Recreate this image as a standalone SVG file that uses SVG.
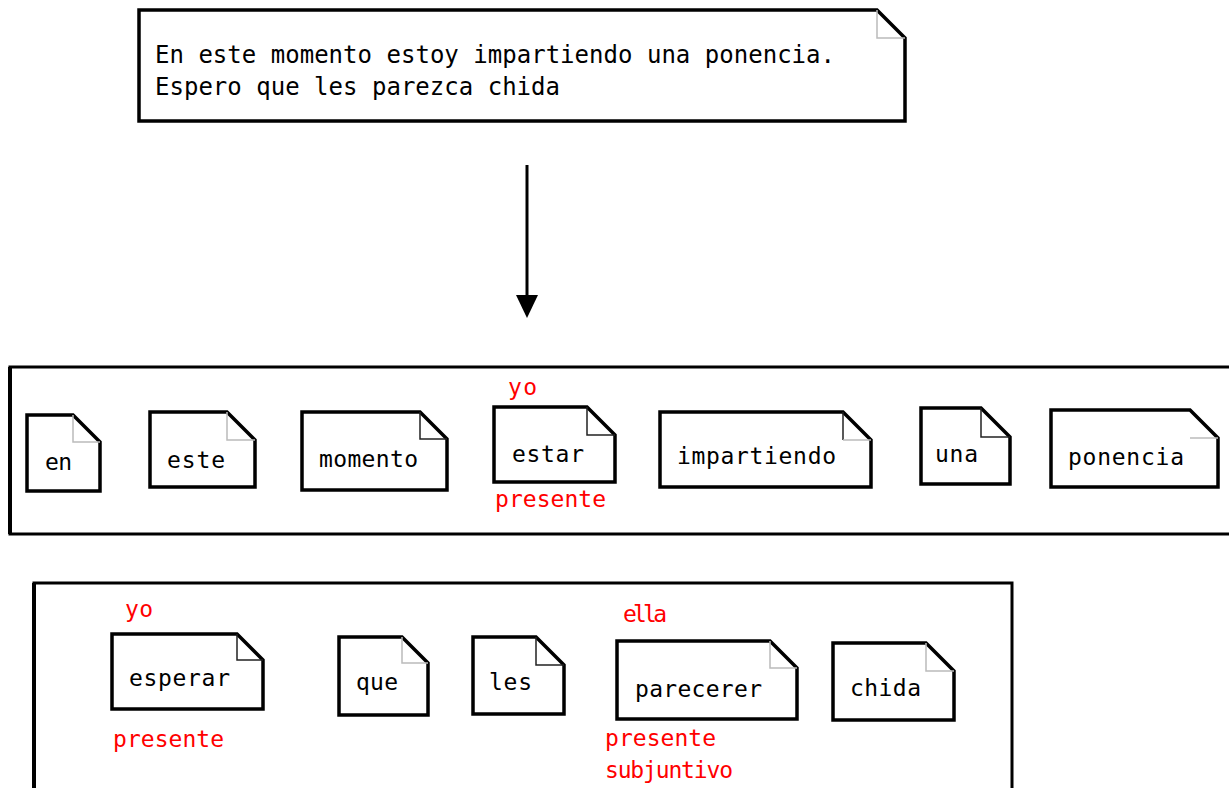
<svg xmlns="http://www.w3.org/2000/svg" width="1229" height="788" viewBox="0 0 1229 788">
<style>
.note{fill:#fff;stroke:#000;stroke-width:3.5;stroke-linejoin:miter}
.fold{fill:none;stroke:#222;stroke-width:1.5}
.fold.lt{stroke:#bbb}
.frame{fill:#fff;stroke:#000;stroke-width:3}
.t{font-family:"DejaVu Sans Mono","Liberation Mono",monospace;font-size:23px;fill:#000}
.big{font-size:24px}
.r{font-family:"DejaVu Sans Mono","Liberation Mono",monospace;font-size:23px;fill:#f00}
</style>
<rect width="1229" height="788" fill="#fff"/>

<g id="frame1"><rect class="frame" x="10" y="367" width="1230" height="167"/><line x1="10" y1="367" x2="10" y2="534" stroke="#000" stroke-width="4"/></g>
<g id="frame2"><path d="M34 795 V583 H1012 V795" fill="#fff" stroke="#000" stroke-width="3"/><line x1="34" y1="583" x2="34" y2="790" stroke="#000" stroke-width="4"/></g>

<g id="source">
<path class="note" d="M139 10 H877 L905 38 V121 H139 Z"/>
<path class="fold lt" d="M877 10 V38 H905"/>
<text class="t big" x="155" y="63" textLength="680">En este momento estoy impartiendo una ponencia.</text>
<text class="t big" x="155" y="95" textLength="405">Espero que les parezca chida</text>
</g>

<g id="connectors">
<line x1="527" y1="165" x2="527" y2="298" stroke="#000" stroke-width="3"/>
<polygon points="516,295 538,295 527,318" fill="#000"/>
</g>

<g id="n-en"><path class="note" d="M27 415 H73 L100 442 V491 H27 Z"/><path class="fold lt" d="M73 415 V442 H100"/><text class="t" x="45" y="470" textLength="27">en</text></g>
<g id="n-este"><path class="note" d="M150 412 H227 L255 440 V487 H150 Z"/><path class="fold lt" d="M227 412 V440 H255"/><text class="t" x="167" y="468" textLength="58">este</text></g>
<g id="n-momento"><path class="note" d="M302 412 H420 L447 439 V490 H302 Z"/><path class="fold" d="M420 412 V439 H447"/><text class="t" x="319" y="467" textLength="99">momento</text></g>
<g id="n-estar"><path class="note" d="M494 407 H587 L615 435 V482 H494 Z"/><path class="fold" d="M587 407 V435 H615"/><text class="t" x="512" y="462" textLength="72">estar</text><text class="r" x="508" y="395" textLength="29">yo</text><text class="r" x="495" y="507" textLength="111">presente</text></g>
<g id="n-impartiendo"><path class="note" d="M660 412 H843 L871 440 V487 H660 Z"/><path class="fold" d="M843 412 V440"/><path class="fold lt" d="M843 440 H871"/><text class="t" x="677" y="464" textLength="159">impartiendo</text></g>
<g id="n-una"><path class="note" d="M921 408 H981 L1010 437 V484 H921 Z"/><path class="fold" d="M981 408 V437 H1010"/><text class="t" x="935" y="462" textLength="43">una</text></g>
<g id="n-ponencia"><path class="note" d="M1051 410 H1190 L1218 438 V487 H1051 Z"/><path class="fold lt" d="M1190 438 H1218"/><text class="t" x="1068" y="465" textLength="116">ponencia</text></g>

<g id="n-esperar"><path class="note" d="M112 634 H237 L263 660 V709 H112 Z"/><path class="fold" d="M237 634 V660 H263"/><text class="t" x="129" y="686" textLength="101">esperar</text><text class="r" x="125" y="617" textLength="28">yo</text><text class="r" x="113" y="747" textLength="111">presente</text></g>
<g id="n-que"><path class="note" d="M339 637 H402 L428 663 V715 H339 Z"/><path class="fold lt" d="M402 637 V663 H428"/><text class="t" x="356" y="690" textLength="42">que</text></g>
<g id="n-les"><path class="note" d="M473 637 H536 L564 665 V714 H473 Z"/><path class="fold" d="M536 637 V665 H564"/><text class="t" x="489" y="690" textLength="43">les</text></g>
<g id="n-parecerer"><path class="note" d="M617 641 H770 L797 668 V719 H617 Z"/><path class="fold lt" d="M770 641 V668 H797"/><text class="t" x="635" y="697" textLength="127">parecerer</text><text class="r" x="623" y="622" textLength="44">ella</text><text class="r" x="605" y="746" textLength="111">presente</text><text class="r" x="605" y="778" textLength="128">subjuntivo</text></g>
<g id="n-chida"><path class="note" d="M833 643 H926 L954 671 V720 H833 Z"/><path class="fold lt" d="M926 643 V671 H954"/><text class="t" x="850" y="696" textLength="71">chida</text></g>
</svg>
